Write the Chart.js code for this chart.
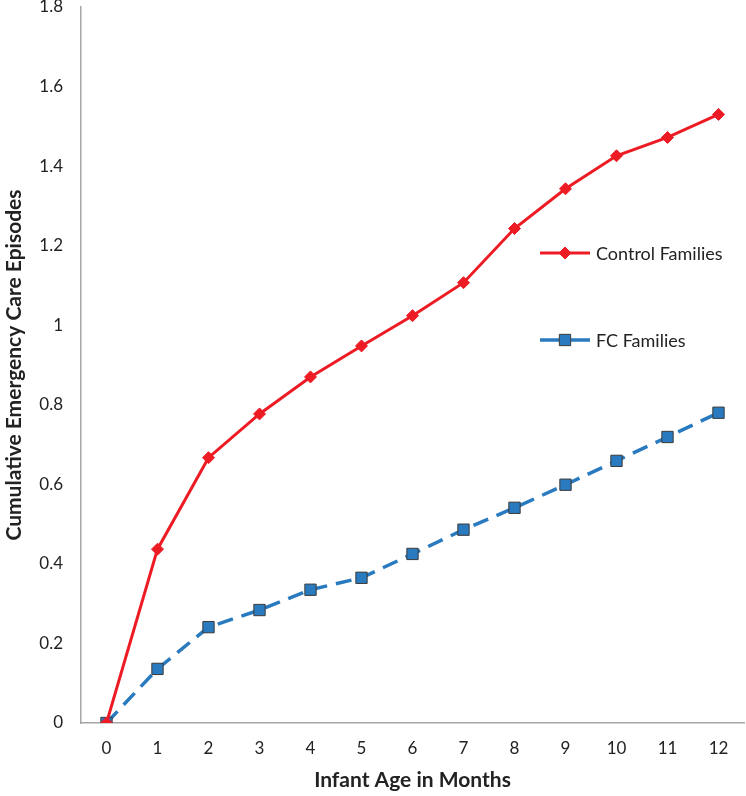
<!DOCTYPE html>
<html>
<head>
<meta charset="utf-8">
<script src="https://cdn.jsdelivr.net/npm/chart.js@4.4.0/dist/chart.umd.min.js"></script>
<style>
  html, body { margin: 0; padding: 0; background: #fff; }
  #wrap { width: 746px; height: 796px; }
</style>
</head>
<body>
<div id="wrap"><canvas id="chart" width="746" height="796"></canvas></div>
<script>
// months 0..12
const months = ["0", "1", "2", "3", "4", "5", "6", "7", "8", "9", "10", "11", "12"]
const controlFamilies = [0, 0.437, 0.667, 0.777, 0.870, 0.948, 1.024, 1.107, 1.243, 1.343, 1.426, 1.472, 1.530]
const fcFamilies = [0, 0.136, 0.241, 0.284, 0.335, 0.365, 0.425, 0.486, 0.541, 0.599, 0.659, 0.719, 0.780]
const yTicks = [0, 0.2, 0.4, 0.6, 0.8, 1, 1.2, 1.4, 1.6, 1.8]

const FONT = "Lato, 'Open Sans', sans-serif"
const RED = "#ed1c24"
const BLUE = "#2a7abf"

// legend sits inside the plot, on the right, like the original
const sideLegend = {
  id: "sideLegend",
  afterDraw(chart) {
    const ctx = chart.ctx
    const rows = [
      { ds: chart.data.datasets[0], y: 253 },
      { ds: chart.data.datasets[1], y: 340 }
    ]
    ctx.save()
    rows.forEach(r => {
      const ds = r.ds
      ctx.strokeStyle = ds.borderColor
      ctx.lineWidth = ds.borderWidth
      ctx.setLineDash([])
      ctx.beginPath()
      if (ds.borderDash && ds.borderDash.length) {
        ctx.moveTo(540, r.y); ctx.lineTo(559, r.y)
        ctx.moveTo(571, r.y); ctx.lineTo(590, r.y)
      } else {
        ctx.moveTo(540, r.y); ctx.lineTo(590, r.y)
      }
      ctx.stroke()
      ctx.fillStyle = ds.pointBackgroundColor
      ctx.strokeStyle = ds.pointBorderColor
      ctx.lineWidth = ds.pointBorderWidth
      Chart.helpers.drawPoint(ctx, {
        pointStyle: ds.pointStyle,
        radius: ds.pointRadius,
        borderWidth: ds.pointBorderWidth,
        rotation: 0
      }, 565, r.y)
      ctx.fillStyle = "#222"
      ctx.font = "18px " + FONT
      ctx.textBaseline = "middle"
      ctx.textAlign = "left"
      ctx.fillText(ds.label, 596, r.y + 1)
    })
    ctx.restore()
  }
}

const chart = new Chart(document.getElementById("chart"), {
  type: "line",
  data: {
    labels: months,
    datasets: [
      {
        label: "Control Families",
        data: controlFamilies,
        borderColor: RED,
        backgroundColor: RED,
        borderWidth: 3,
        pointStyle: "rectRot",
        pointRadius: 6,
        pointBackgroundColor: RED,
        pointBorderColor: RED,
        pointBorderWidth: 1,
        tension: 0
      },
      {
        label: "FC Families",
        data: fcFamilies,
        borderColor: BLUE,
        backgroundColor: BLUE,
        borderWidth: 3.5,
        borderDash: [16, 9],
        pointStyle: "rect",
        pointRadius: 8,
        pointBackgroundColor: BLUE,
        pointBorderColor: "#3a3a3a",
        pointBorderWidth: 1,
        tension: 0
      }
    ]
  },
  options: {
    responsive: false,
    animation: false,
    layout: { autoPadding: false, padding: { top: 7, right: 2, bottom: 3, left: 0 } },
    plugins: {
      legend: { display: false },
      tooltip: { enabled: false }
    },
    scales: {
      x: {
        offset: true,
        // fixed box height so the plot bottom lands where the original has it
        afterFit: axis => { axis.paddingLeft = 0; axis.paddingRight = 0; axis.height = 70 },
        grid: { display: false, drawTicks: false },
        border: { display: true, color: "#a6a6a6", width: 1.5 },
        ticks: { color: "#222", font: { family: FONT, size: 17 }, padding: 15 },
        title: {
          display: true,
          text: "Infant Age in Months",
          color: "#222",
          font: { family: FONT, size: 21, weight: "bold" },
          padding: { top: 10, bottom: 0 }
        }
      },
      y: {
        min: 0,
        max: 1.8,
        afterBuildTicks: axis => { axis.ticks = yTicks.map(v => ({ value: v })) },
        afterFit: axis => { axis.paddingTop = 0; axis.paddingBottom = 0; axis.width = 81 },
        grid: { display: false, drawTicks: false },
        border: { display: true, color: "#a6a6a6", width: 1.5 },
        ticks: {
          color: "#222",
          font: { family: FONT, size: 17 },
          padding: 18,
          callback: v => String(+(+v).toFixed(1))
        },
        title: {
          display: true,
          text: "Cumulative Emergency Care Episodes",
          color: "#222",
          font: { family: FONT, size: 21, weight: "bold" },
          padding: { top: 2, bottom: 12 }
        }
      }
    }
  },
  plugins: [sideLegend]
})
</script>
</body>
</html>
